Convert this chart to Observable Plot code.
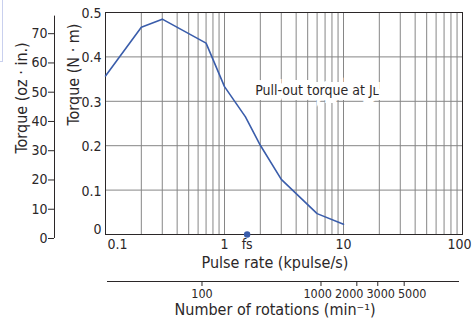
<!DOCTYPE html>
<html>
<head>
<meta charset="utf-8">
<script src="https://cdn.jsdelivr.net/npm/d3@7"></script>
<script src="https://cdn.jsdelivr.net/npm/@observablehq/plot@0.6"></script>
<style>
  html, body { margin: 0; padding: 0; background: #fff; }
  #wrap { position: relative; width: 472px; height: 324px; overflow: hidden; }
  #tab { position: absolute; left: 0; top: 0; width: 2px; height: 61px;
         border-right: 1px solid #c9d0ee; border-bottom: 1px solid #c9d0ee; }
  svg { font-family: "Liberation Sans Narrow", "DejaVu Sans Condensed", "Roboto Condensed", "Liberation Sans", sans-serif; }
</style>
</head>
<body>
<div id="wrap"><div id="tab"></div></div>
<script>
// ---- data ----
const pulseRate = [0.1, 0.2, 0.3, 0.7, 1.0, 1.5, 2, 3, 6, 10];          // kpulse/s
const torque    = [0.357, 0.467, 0.485, 0.431, 0.333, 0.265, 0.201, 0.124, 0.047, 0.023]; // N·m
const fsValue = 1.55;                                                   // kpulse/s
const xTicks = [0.1, 1, 10, 100];
const xGrid = [0.1,0.2,0.3,0.4,0.5,0.6,0.7,0.8,0.9,1,2,3,4,5,6,7,8,9,10,20,30,40,50,60,70,80,90,100];
const nmTicks = [0, 0.1, 0.2, 0.3, 0.4, 0.5];
const ozTicks = [0, 10, 20, 30, 40, 50, 60, 70];
const rpmTicks = [100, 1000, 2000, 3000, 5000];
const curveLabel = "Pull-out torque at J\u029F";

// calibration of the secondary axes as drawn in the reference
const rpmToPulse = r => r * 0.00647;          // kpulse/s per min^-1 (as drawn)
const ozToNm = oz => oz * 0.00659 - 0.009;    // oz·in position on the N·m scale (as drawn)
const ozTop = 76;

const W = 472, H = 324, mL = 105, mR = 10, mT = 12, mB = 90;
const data = pulseRate.map((p, i) => ({p, t: torque[i]}));
const ink = "#2b2728";
const blue = "#3a5dab";
const grid = "#868686";
const xDomain = [0.1, 100];

// spread the crowded rotation labels apart (as the reference does)
const xs = Plot.scale({x: {type: "log", domain: xDomain, range: [mL, W - mR]}});
const pos = rpmTicks.map(r => xs.apply(rpmToPulse(r)));
const minGap = 31.5;
for (let k = 0; k < 300; k++) {
  for (let i = 1; i < pos.length; i++) {
    const d = pos[i] - pos[i - 1];
    if (d < minGap) { const s = (minGap - d) / 2; pos[i - 1] -= s; pos[i] += s; }
  }
}
const rpmLabels = rpmTicks.map((r, i) => ({r, x: xs.invert(pos[i])}));

const chart = Plot.plot({
  width: W, height: H,
  marginLeft: mL, marginRight: mR, marginTop: mT, marginBottom: mB,
  x: {type: "log", domain: xDomain, axis: null},
  y: {domain: [0, 0.5], axis: null},
  style: {background: "transparent", overflow: "visible"},
  marks: [
    Plot.ruleX(xGrid, {stroke: grid, strokeWidth: 1}),
    Plot.ruleY(nmTicks.filter(d => d > 0 && d < 0.5), {stroke: grid, strokeWidth: 1}),
    Plot.frame({stroke: ink, strokeWidth: 1}),
    Plot.line(data, {x: "p", y: "t", stroke: blue, strokeWidth: 1.6}),
    Plot.text([curveLabel], {x: 6, y: 0.324, text: d => d, fontSize: 14, fill: ink,
      stroke: "white", strokeWidth: 10, strokeLinejoin: "miter"}),
    Plot.dot([fsValue], {x: d => d, y: 0, r: 3.2, fill: blue, stroke: null}),
    // N·m axis labels
    Plot.text(nmTicks.filter(d => d > 0), {y: d => d, text: d => String(d), frameAnchor: "left",
      textAnchor: "end", dx: -4, dy: 1, fontSize: 14, fill: ink}),
    Plot.text([0], {y: d => d, text: d => "0", frameAnchor: "left",
      textAnchor: "end", dx: -4, dy: -5, fontSize: 14, fill: ink}),
    Plot.text(["Torque (N · m)"], {text: d => d, frameAnchor: "left", rotate: -90,
      dx: -32, dy: 2, fontSize: 16, fill: ink}),
    // oz·in axis
    Plot.ruleX([xDomain[0]], {y1: ozToNm(0), y2: ozToNm(ozTop), dx: -51, stroke: ink, strokeWidth: 1}),
    Plot.ruleY(ozTicks, {y: d => ozToNm(d), x1: xDomain[0], x2: xDomain[0], dx: -51, insetLeft: -6,
      stroke: ink, strokeWidth: 1}),
    Plot.text(ozTicks, {y: d => ozToNm(d), text: d => String(d), frameAnchor: "left",
      textAnchor: "end", dx: -58, fontSize: 14, fill: ink}),
    Plot.text(["Torque (oz · in.)"], {text: d => d, frameAnchor: "left", rotate: -90,
      dx: -84, dy: 30, fontSize: 16, fill: ink}),
    // pulse rate axis labels
    Plot.text(xTicks.slice(0, 1), {x: d => d, text: d => String(d), frameAnchor: "bottom",
      textAnchor: "start", dx: 2, dy: 14, fontSize: 14, fill: ink}),
    Plot.text(xTicks.slice(1, -1), {x: d => d, text: d => String(d), frameAnchor: "bottom",
      dy: 14, fontSize: 14, fill: ink}),
    Plot.text(xTicks.slice(-1), {x: d => d, text: d => String(d), frameAnchor: "bottom",
      textAnchor: "end", dx: 9, dy: 14, fontSize: 14, fill: ink}),
    Plot.text([fsValue], {x: d => d, text: d => "fs", frameAnchor: "bottom",
      dy: 14, fontSize: 14, fill: ink}),
    Plot.text(["Pulse rate (kpulse/s)"], {text: d => d, frameAnchor: "bottom",
      dx: -9, dy: 33, fontSize: 16, fill: ink}),
    // rotation axis
    Plot.ruleY([0], {dy: 47, insetLeft: 2, insetRight: 3, stroke: ink, strokeWidth: 1}),
    Plot.ruleX(rpmTicks, {x: d => rpmToPulse(d), y1: 0, y2: 0, dy: 47, insetBottom: -5,
      stroke: ink, strokeWidth: 1}),
    Plot.text(rpmLabels, {x: "x", text: d => String(d.r), frameAnchor: "bottom",
      dy: 63, fontSize: 12.5, fill: ink}),
    Plot.text(["Number of rotations (min\u207B\u00B9)"], {text: d => d, frameAnchor: "bottom",
      dx: -9, dy: 80, fontSize: 16, fill: ink})
  ]
});
document.getElementById("wrap").appendChild(chart);
</script>
</body>
</html>
